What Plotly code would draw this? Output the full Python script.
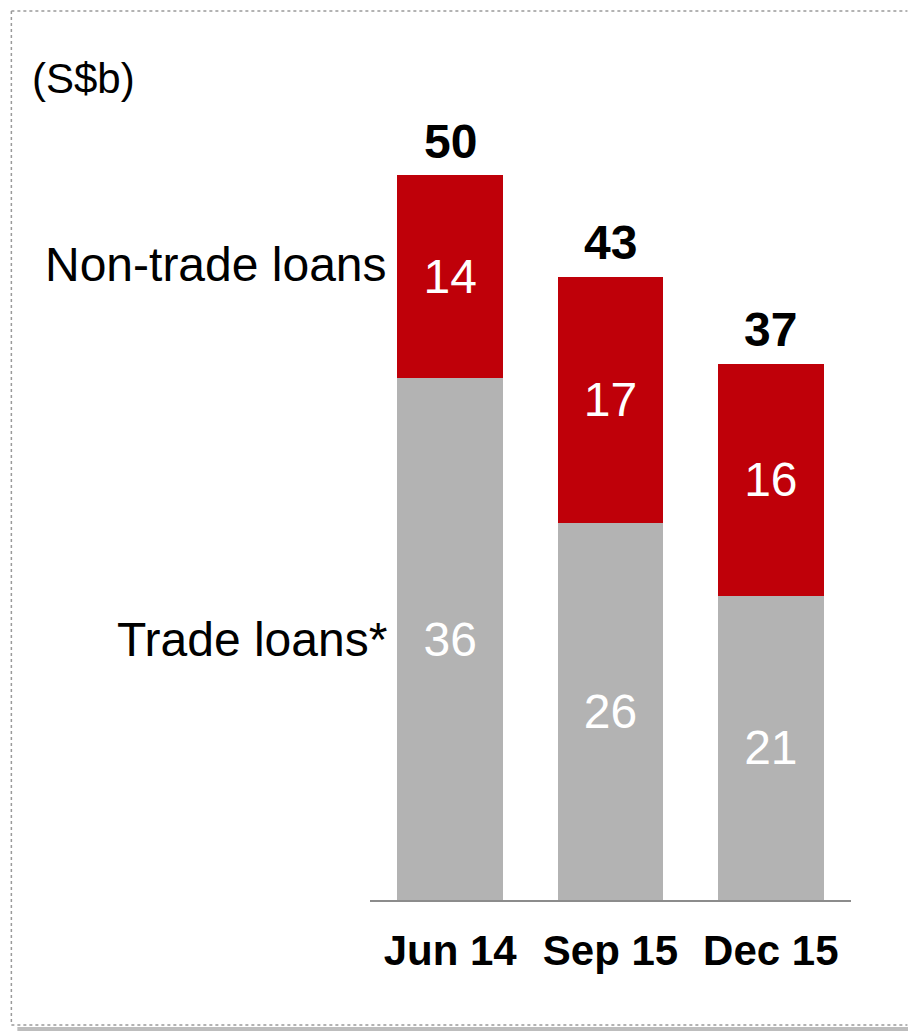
import plotly.graph_objects as go

categories = ["Jun 14", "Sep 15", "Dec 15"]
trade_loans = [36, 26, 21]
non_trade_loans = [14, 17, 16]
totals = [50, 43, 37]

W, H = 908, 1031
L, R, T, B = 370, 56.5, 30, 131
PW, PH = W - L - R, H - T - B

def px(x):
    return (x - L) / PW

def py(y):
    return (H - B - y) / PH

FONT = "Liberation Sans, Arial, sans-serif"
RED = "#BF0009"
GREY = "#B3B3B3"

fig = go.Figure()
fig.add_trace(go.Bar(
    x=categories, y=trade_loans, marker=dict(color=GREY, line=dict(width=0)),
    text=[str(v) for v in trade_loans], textposition="inside", insidetextanchor="middle",
    textfont=dict(color="white", size=48, family=FONT), constraintext="none",
    hoverinfo="skip", name="Trade loans*"))
fig.add_trace(go.Bar(
    x=categories, y=non_trade_loans, marker=dict(color=RED, line=dict(width=0)),
    text=[str(v) for v in non_trade_loans], textposition="inside", insidetextanchor="middle",
    textfont=dict(color="white", size=48, family=FONT), constraintext="none",
    hoverinfo="skip", name="Non-trade loans"))

for c, t in zip(categories, totals):
    fig.add_annotation(x=c, y=t, text=f"<b>{t}</b>", showarrow=False, yanchor="middle",
                       yshift=34, font=dict(size=48, color="black", family=FONT))

# side labels
fig.add_annotation(xref="paper", yref="paper", x=px(389), y=py(265), text="Non-trade loans",
                   showarrow=False, xanchor="right", yanchor="middle",
                   font=dict(size=48, color="black", family=FONT))
fig.add_annotation(xref="paper", yref="paper", x=px(389), y=py(640), text="Trade loans*",
                   showarrow=False, xanchor="right", yanchor="middle",
                   font=dict(size=48, color="black", family=FONT))
fig.add_annotation(xref="paper", yref="paper", x=px(30), y=py(78), text="(S$b)",
                   showarrow=False, xanchor="left", yanchor="middle",
                   font=dict(size=42, color="black", family=FONT))

# dotted frame
dot = dict(color="#9A9A9A", width=1.5, dash="dot")
fig.add_shape(type="line", xref="paper", yref="paper", x0=px(11), x1=px(908), y0=py(11), y1=py(11), line=dot)
fig.add_shape(type="line", xref="paper", yref="paper", x0=px(11), x1=px(11), y0=py(11), y1=py(1025), line=dot)
fig.add_shape(type="line", xref="paper", yref="paper", x0=px(11), x1=px(908), y0=py(1025), y1=py(1025), line=dot)
fig.add_shape(type="rect", xref="paper", yref="paper", x0=px(17), x1=px(910), y0=py(1027), y1=py(1033),
              fillcolor="#BDBDBD", line=dict(width=0))

fig.update_layout(
    width=W, height=H, barmode="stack", bargap=0.34, showlegend=False,
    margin=dict(l=L, r=R, t=T, b=B, pad=0),
    paper_bgcolor="white", plot_bgcolor="white",
    xaxis=dict(range=[-0.5, 2.5], showline=True, linecolor="#8C8C8C", linewidth=2,
               ticks="", showgrid=False, zeroline=False, ticklabelstandoff=13,
               tickfont=dict(size=42, color="black", family=FONT), fixedrange=True),
    yaxis=dict(range=[0, 60], visible=False, showgrid=False, zeroline=False, fixedrange=True),
)
fig.update_xaxes(tickvals=categories, ticktext=[f"<b>{c}</b>" for c in categories])

fig.write_html("out.html")
